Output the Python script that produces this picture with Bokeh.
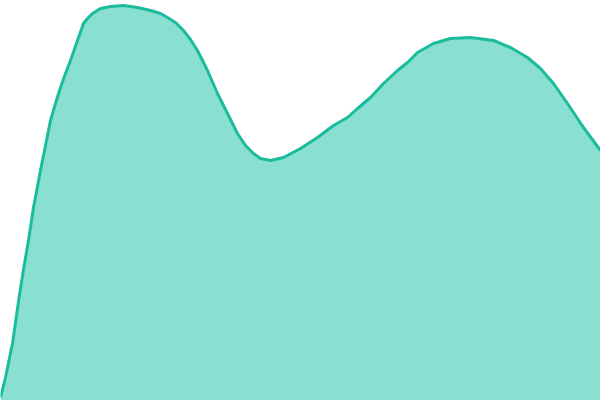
from bokeh.plotting import figure
from bokeh.models import ColumnDataSource, Range1d, GlobalInlineStyleSheet
from bokeh.embed import file_html
from bokeh.resources import INLINE

# x positions and series values (height above baseline)
xs = [0, 5, 12, 18, 23, 28, 33, 40, 46, 50, 55, 60, 65, 70, 77, 83, 87, 92,
      100, 110, 123, 137, 150, 160, 167, 175, 183, 190, 197, 207, 217, 227, 237,
      245, 253, 260, 270, 283, 300, 317, 333, 347, 357, 370, 383, 397, 407, 417,
      433, 450, 470, 493, 510, 527, 540, 553, 567, 583, 600]
values = [3, 23, 57, 99, 131, 160, 193, 230, 260, 280, 297, 313, 327, 340,
          360, 377, 382, 387, 392, 394, 395, 393, 390, 387, 383, 378, 370, 361,
          350, 330, 307, 287, 267, 255, 247, 242, 240, 243, 252, 263, 275, 283,
          292, 303, 317, 330, 338, 348, 357, 362, 363, 360, 353, 343, 332, 317,
          297, 273, 250]
baseline = [0] * len(xs)

source = ColumnDataSource(dict(x=xs, y=values, base=baseline))

p = figure(width=600, height=400, output_backend="svg", toolbar_location=None,
           x_range=Range1d(0, 600), y_range=Range1d(0, 400), min_border=0)
p.axis.visible = False
p.grid.visible = False
p.outline_line_color = None
p.background_fill_color = "white"
p.border_fill_color = "white"

p.varea(x="x", y1="base", y2="y", source=source, fill_color="#89E0D0", fill_alpha=1.0)
p.line(x="x", y="y", source=source, line_color="#1ABC9C", line_width=3,
       line_join="round")

p.stylesheets = [GlobalInlineStyleSheet(css="html, body { margin: 0; padding: 0; overflow: hidden; }")]

open("out.html", "w").write(file_html(p, INLINE))
